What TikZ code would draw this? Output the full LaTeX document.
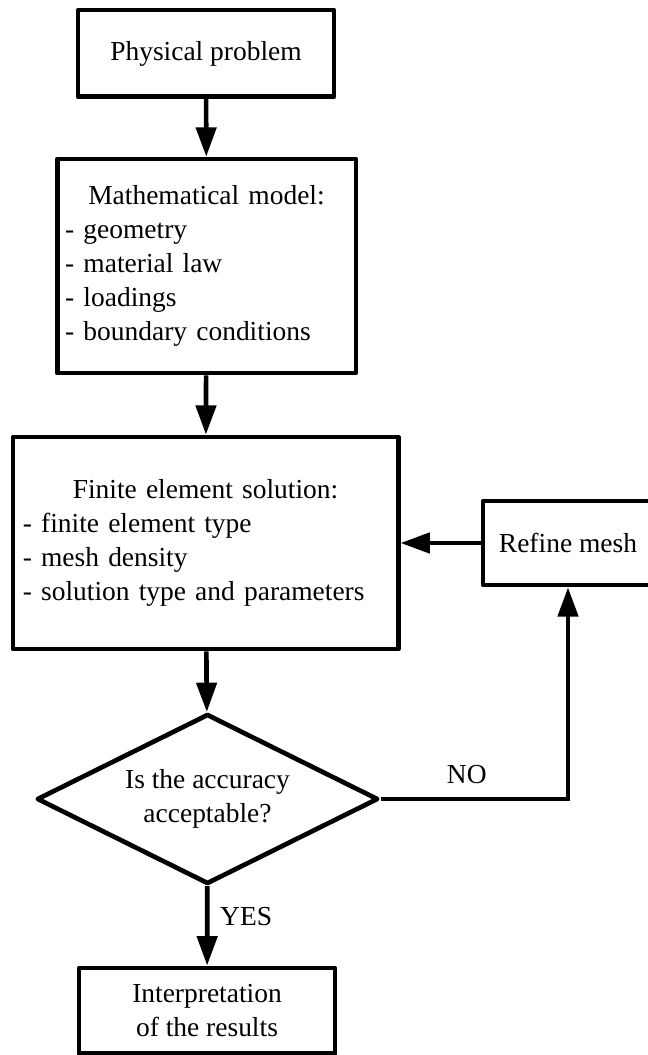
\documentclass[tikz,border=0pt]{standalone}
\usepackage{fontspec}
\setmainfont{Liberation Serif}
\usepackage{tikz}
\usetikzlibrary{shapes.geometric,arrows.meta}
\newcommand{\flowfont}{\fontsize{20.6pt}{25.5pt}\selectfont}
\tikzset{
  box/.style={draw=black, line width=3.5pt, line join=round, rectangle, inner sep=0pt, font=\flowfont, align=center},
  listbox/.style={box, align=left},
  dec/.style={draw=black, line width=3.5pt, line join=round, diamond, aspect=2, inner sep=1pt, font=\flowfont, align=center},
  arr/.style={draw=black, line width=3.5pt, -{Triangle[length=22pt,width=15pt]}},
  lab/.style={font=\flowfont, inner sep=0pt},
}

\begin{document}
\begin{tikzpicture}[x=0.75pt,y=-0.75pt]
  \useasboundingbox (0,0) rectangle (647,1055);

  \node[box, minimum width=192pt, minimum height=65pt] (phys) at (206,53.5) {Physical problem};
  \node[listbox, minimum width=224pt, minimum height=160.5pt, text width=212pt] (model) at (206.5,266)
    {\makebox[212pt]{Mathematical model:}\\- geometry\\- material law\\- loadings\\- boundary conditions};
  \node[listbox, minimum width=289pt, minimum height=159pt, text width=274pt] (fem) at (205.5,543)
    {\makebox[274pt]{Finite element solution:}\\- finite element type\\- mesh density\\- solution type and parameters};
  \node[box, minimum width=127.5pt, minimum height=63pt] (refine) at (568,543) {Refine mesh};
  \node[dec, minimum width=256pt, minimum height=127.5pt] (check) at (207.5,799) {Is the accuracy\\acceptable?};
  \node[box, minimum width=192pt, minimum height=64pt] (interp) at (207,1010.5) {Interpretation\\of the results};

  \draw[arr] (phys) -- (model);
  \draw[arr] (model) -- (fem);
  \draw[arr] (fem) -- (check);
  \draw[arr] (check) -- (interp) node[lab, right=8pt, pos=0.38] {YES};   % accepted
  \draw[arr] (check.east) -| (refine) node[lab, above=10pt, pos=0.23] {NO};   % loop back
  \draw[arr] (refine) -- (fem);
\end{tikzpicture}
\end{document}
